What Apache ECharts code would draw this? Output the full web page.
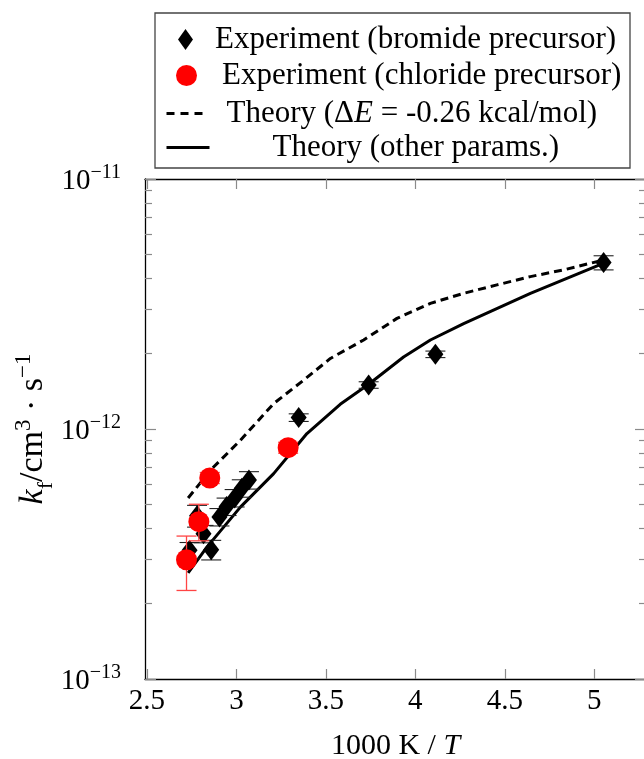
<!DOCTYPE html>
<html><head><meta charset="utf-8">
<script src="https://cdn.jsdelivr.net/npm/echarts@6/dist/echarts.min.js"></script>
<style>html,body{margin:0;padding:0;background:#fff}#c{width:644px;height:759px}</style>
</head><body><div id="c"></div>
<script>
// ---- data ----
const bromideX = [2.738, 2.78, 2.816, 2.859, 2.905, 2.945, 2.99, 3.03, 3.07, 3.348, 3.739, 4.112, 5.052];
const bromideK = [3.27e-13, 4.5e-13, 3.81e-13, 3.29e-13, 4.45e-13, 4.9e-13, 5.3e-13, 5.8e-13, 6.25e-13, 1.111e-12, 1.50e-12, 1.99e-12, 4.63e-12];
const bromideRelErr = [0.075, 0.10, 0.08, 0.09, 0.08, 0.08, 0.08, 0.08, 0.08, 0.035, 0.03, 0.03, 0.065];
const chlorideX = [2.721, 2.790, 2.851, 3.289];
const chlorideK = [3.0e-13, 4.26e-13, 6.37e-13, 8.42e-13];
const chlorideLow = [2.26e-13, 3.57e-13, 6.05e-13, 8.0e-13];
const chlorideHigh = [3.73e-13, 5.0e-13, 6.7e-13, 8.85e-13];
const theoryDashedX = [2.73, 2.863, 3.022, 3.208, 3.375, 3.525, 3.711, 3.897, 4.084, 4.27, 4.456, 4.643, 4.829, 5.05];
const theoryDashedK = [5.3e-13, 6.94e-13, 9.01e-13, 1.264e-12, 1.567e-12, 1.915e-12, 2.27e-12, 2.77e-12, 3.18e-12, 3.49e-12, 3.77e-12, 4.07e-12, 4.33e-12, 4.74e-12];
const theorySolidX = [2.73, 2.835, 3.022, 3.208, 3.394, 3.58, 3.739, 3.934, 4.084, 4.27, 4.643, 5.05];
const theorySolidK = [2.66e-13, 3.37e-13, 4.87e-13, 6.63e-13, 9.59e-13, 1.256e-12, 1.51e-12, 1.94e-12, 2.27e-12, 2.64e-12, 3.49e-12, 4.6e-12];
const xTicks = [2.5, 3, 3.5, 4, 4.5, 5];
const yMinorTicks = [];
for (const e of [-13, -12]) for (let k = 2; k <= 9; k++) yMinorTicks.push(Math.log10(k) + e);
const names = ['Experiment (bromide precursor)', 'Experiment (chloride precursor)', 'Theory (\u0394E = -0.26 kcal/mol)', 'Theory (other params.)'];

// ---- rendering ----
const FF = 'Liberation Serif';
const zip = (a, b) => a.map((v, i) => [v, b[i]]);
function errRender(color, capW, lw) {
  return function (params, api) {
    const x = api.value(0), lo = api.value(1), hi = api.value(2);
    const pLo = api.coord([x, lo]), pHi = api.coord([x, hi]);
    const h = capW / 2;
    const st = { stroke: color, lineWidth: lw };
    return { type: 'group', children: [
      { type: 'line', shape: { x1: pLo[0], y1: pLo[1], x2: pHi[0], y2: pHi[1] }, style: st },
      { type: 'line', shape: { x1: pLo[0] - h, y1: pLo[1], x2: pLo[0] + h, y2: pLo[1] }, style: st },
      { type: 'line', shape: { x1: pHi[0] - h, y1: pHi[1], x2: pHi[0] + h, y2: pHi[1] }, style: st }
    ]};
  };
}
const XMIN = 2.489, XMAX = 5.289;
const tickStyle = { color: '#8a8a8a', width: 1.2 };
const lineStyleAxis = { color: '#000', width: 1.3 };
const LFS = 31;
function legendItem(name, left, top, w, h, gap, fmt, lineType) {
  const o = {
    data: [name], left: left, top: top, itemWidth: w, itemHeight: h, padding: 0,
    selectedMode: false, orient: 'horizontal',
    formatter: () => '{g| }' + fmt,
    textStyle: { fontFamily: FF, fontSize: LFS, color: '#000',
      rich: { g: { width: gap, fontSize: LFS }, n: { fontFamily: FF, fontSize: LFS, color: '#000' },
              i: { fontFamily: FF, fontSize: LFS, fontStyle: 'italic', color: '#000' } } }
  };
  if (lineType) {
    o.itemStyle = { opacity: 0, color: 'rgba(0,0,0,0)', borderWidth: 0 };
    o.lineStyle = { width: 3, color: '#000', type: lineType };
  }
  return o;
}
const chart = echarts.init(document.getElementById('c'), null, { renderer: 'canvas' });
chart.setOption({
  animation: false,
  backgroundColor: '#fff',
  grid: { left: 145, top: 179, width: 501, height: 500, containLabel: false, outerBoundsMode: 'none' },
  graphic: [{ type: 'rect', shape: { x: 155, y: 13, width: 475, height: 155 },
    style: { fill: 'none', stroke: '#444', lineWidth: 1.3 }, z: 10 }],
  legend: [
    legendItem(names[0], 178, 24, 15, 21, 17, '{n|Experiment (bromide precursor)}'),
    legendItem(names[1], 176, 60, 21, 21, 20, '{n|Experiment (chloride precursor)}'),
    legendItem(names[2], 165, 98, 38, 14, 17, '{n|Theory (\u0394}{i|E}{n| = -0.26 kcal/mol)}', [8, 6]),
    legendItem(names[3], 165, 132, 43, 14, 58, '{n|Theory (other params.)}', 'solid')
  ],
  xAxis: [
    { type: 'value', position: 'bottom', min: XMIN, max: XMAX,
      axisLine: { show: true, lineStyle: lineStyleAxis },
      axisTick: { show: true, inside: true, length: 10, customValues: xTicks, lineStyle: tickStyle },
      axisLabel: { customValues: xTicks, fontFamily: FF, fontSize: 29, color: '#000', margin: 8 },
      splitLine: { show: false },
      name: '{n|1000 K / }{i|T}', nameLocation: 'middle', nameGap: 52, nameMoveOverlap: false,
      nameTextStyle: { rich: { n: { fontFamily: FF, fontSize: 30, color: '#000' }, i: { fontFamily: FF, fontSize: 30, fontStyle: 'italic', color: '#000' } } } },
    { type: 'value', position: 'top', min: XMIN, max: XMAX,
      axisLine: { show: true, lineStyle: lineStyleAxis },
      axisTick: { show: true, inside: true, length: 10, customValues: xTicks, lineStyle: tickStyle },
      axisLabel: { show: false }, splitLine: { show: false } }
  ],
  yAxis: [
    { type: 'log', logBase: 10, min: 1e-13, max: 1e-11, position: 'left',
      axisLine: { show: true, lineStyle: lineStyleAxis },
      axisTick: { show: true, inside: true, length: 11, lineStyle: tickStyle },
      minorTick: { show: false }, splitLine: { show: false },
      axisLabel: { margin: 24, align: 'right',
        formatter: v => '{b|10}{s|\u2212' + Math.round(-Math.log10(v)) + '}',
        rich: { b: { fontFamily: FF, fontSize: 29, color: '#000', verticalAlign: 'bottom' },
                s: { fontFamily: FF, fontSize: 20, color: '#000', verticalAlign: 'bottom', padding: [0, 0, 13, 0] } } },
      name: '{i|k}{sub|f}{n|/cm}{sup|3}{n| \u00b7 s}{sup|\u22121}', nameLocation: 'middle', nameGap: 88, nameRotate: 90,
      nameMoveOverlap: false,
      nameTextStyle: { rich: {
        i: { fontFamily: FF, fontSize: 34, fontStyle: 'italic', color: '#000', verticalAlign: 'bottom', padding: [0, 0, 7, 0] },
        sub: { fontFamily: FF, fontSize: 22, color: '#000', verticalAlign: 'bottom', padding: [0, 0, 0, 0] },
        n: { fontFamily: FF, fontSize: 34, color: '#000', verticalAlign: 'bottom', padding: [0, 0, 7, 0] },
        sup: { fontFamily: FF, fontSize: 23, color: '#000', verticalAlign: 'bottom', padding: [0, 0, 22, 0] } } } },
    { type: 'value', min: -13, max: -11, position: 'left',
      axisLine: { show: false }, splitLine: { show: false }, axisLabel: { show: false },
      axisTick: { show: true, inside: true, length: 7, customValues: yMinorTicks, lineStyle: tickStyle } },
    { type: 'log', logBase: 10, min: 1e-13, max: 1e-11, position: 'right',
      axisLine: { show: true, lineStyle: lineStyleAxis },
      axisTick: { show: true, inside: true, length: 11, lineStyle: tickStyle },
      axisLabel: { show: false }, splitLine: { show: false }, minorTick: { show: false } },
    { type: 'value', min: -13, max: -11, position: 'right',
      axisLine: { show: false }, splitLine: { show: false }, axisLabel: { show: false },
      axisTick: { show: true, inside: true, length: 7, customValues: yMinorTicks, lineStyle: tickStyle } }
  ],
  series: [
    { name: names[2], type: 'line', data: zip(theoryDashedX, theoryDashedK), showSymbol: false, symbol: 'none',
      lineStyle: { color: '#000', width: 3, type: [8, 5] }, itemStyle: { color: '#000' }, z: 2 },
    { name: names[3], type: 'line', data: zip(theorySolidX, theorySolidK), showSymbol: false, symbol: 'none',
      lineStyle: { color: '#000', width: 3, type: 'solid' }, itemStyle: { color: '#000' }, z: 2 },
    { type: 'custom', renderItem: errRender('#222', 20, 1.1), z: 3,
      data: bromideX.map((x, i) => [x, bromideK[i] * (1 - bromideRelErr[i]), bromideK[i] * (1 + bromideRelErr[i])]),
      encode: { x: 0, y: [1, 2] } },
    { name: names[0], type: 'scatter', data: zip(bromideX, bromideK), symbol: 'diamond', symbolSize: [16, 21],
      itemStyle: { color: '#000', opacity: 1 }, z: 4 },
    { type: 'custom', renderItem: errRender('#f44', 20, 1.3), z: 5,
      data: chlorideX.map((x, i) => [x, chlorideLow[i], chlorideHigh[i]]),
      encode: { x: 0, y: [1, 2] } },
    { name: names[1], type: 'scatter', data: zip(chlorideX, chlorideK), symbol: 'circle', symbolSize: 21,
      itemStyle: { color: '#ff0000', opacity: 1 }, z: 6 }
  ]
});
</script>
</body></html>
